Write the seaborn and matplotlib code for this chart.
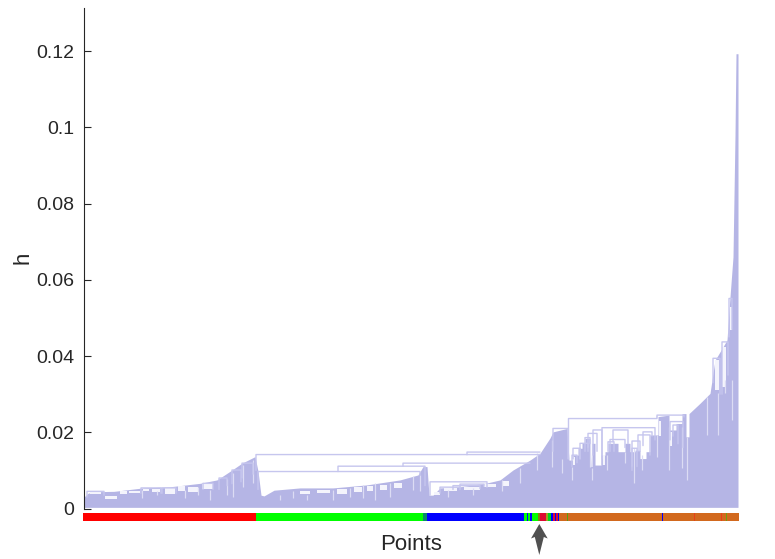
import pandas as pd
import matplotlib.pyplot as plt
import seaborn as sns

# outer shape of the dendrogram, point position vs merge height
env_x = [0, 4, 10, 30, 59, 86, 116, 133, 148, 158, 171, 174, 177, 180, 190, 216, 249, 283, 316, 334, 339, 343, 345,
         349, 356, 376, 403, 416, 429, 446, 456, 466, 469, 483, 485, 489, 489, 494, 494, 498, 498, 501, 501, 506, 507,
         508, 508, 511, 511, 517, 517, 521, 521, 524, 524, 534, 534, 541, 541, 546, 546, 551, 551, 556, 556, 562, 562,
         566, 566, 574, 574, 585, 585, 592, 592, 598, 598, 602, 602, 605, 605, 616, 626, 631, 636, 643, 646,
         649, 651, 652, 654]
env_h = [0.0030, 0.0040, 0.0044, 0.0045, 0.0054, 0.0057, 0.0066, 0.0075, 0.0101, 0.0119, 0.0136, 0.0098, 0.0035, 0.0033,
         0.0048, 0.0054, 0.0054, 0.0062, 0.0075, 0.0088, 0.0110, 0.0110, 0.0035,
         0.0035, 0.0054, 0.0057, 0.0067, 0.0075, 0.0101, 0.0127, 0.0145, 0.0185, 0.0201, 0.0210, 0.0127, 0.0127, 0.0140,
         0.0140, 0.0158, 0.0158, 0.0171, 0.0171, 0.0184, 0.0184, 0.0110,
         0.0110, 0.0171, 0.0171, 0.0114, 0.0114, 0.0140, 0.0140, 0.0149, 0.0149, 0.0171, 0.0171, 0.0149, 0.0149, 0.0171,
         0.0171, 0.0149, 0.0149, 0.0153, 0.0153, 0.0131, 0.0131, 0.0149,
         0.0149, 0.0193, 0.0193, 0.0241, 0.0245, 0.0206, 0.0206, 0.0223, 0.0223, 0.0249, 0.0249, 0.0188, 0.0188, 0.0249,
         0.0276, 0.0302, 0.0389, 0.0411, 0.0442, 0.0555,
         0.0660, 0.0979, 0.1193, 0.1193]

# merges: left, right, height, left child height, right child height
link_l = [172, 174, 254, 319, 346, 383, 356, 369, 376, 57, 78, 119, 135, 148, 158, 3,
          484.5, 469, 518, 509, 504, 501, 496, 489, 488, 529, 526, 524, 548, 548, 554, 559, 573, 586, 589, 629, 638, 645]
link_r = [456, 336, 341, 446, 403, 456, 376, 396, 400, 77, 92, 129, 143, 157, 169, 20,
          573, 484, 571, 518, 513, 506, 504, 496, 493, 544, 541, 530, 556, 553, 566, 568, 600, 599, 594, 636, 644, 648]
link_h = [0.01415, 0.0097, 0.0111, 0.0119, 0.0070, 0.0148, 0.0056, 0.0060, 0.0064, 0.0054, 0.0054, 0.0066, 0.0080, 0.0101, 0.0119, 0.0045,
          0.0236, 0.0210, 0.0212, 0.0206, 0.0197, 0.0186, 0.0171, 0.0158, 0.0140, 0.0206, 0.0181, 0.0175, 0.0177, 0.0158, 0.0193, 0.0201, 0.0245, 0.0228, 0.0219, 0.0394, 0.0437, 0.0551]
link_a = [0.0100, 0.0050, 0.0097, 0.0111, 0.0035, 0.0141, 0.0040, 0.0050, 0.0055, 0.0040, 0.0040, 0.0050, 0.0050, 0.0065, 0.0080, 0.0030,
          0.0130, 0.0150, 0.0115, 0.0140, 0.0160, 0.0150, 0.0130, 0.0130, 0.0110, 0.0175, 0.0150, 0.0150, 0.0110, 0.0100, 0.0150, 0.0165, 0.0240, 0.0180, 0.0190, 0.0330, 0.0300, 0.0450]
link_b = [0.0142, 0.0088, 0.0060, 0.0119, 0.0055, 0.0148, 0.0050, 0.0052, 0.0058, 0.0040, 0.0040, 0.0050, 0.0060, 0.0070, 0.0090, 0.0035,
          0.0240, 0.0130, 0.0180, 0.0130, 0.0150, 0.0170, 0.0150, 0.0130, 0.0120, 0.0170, 0.0160, 0.0150, 0.0150, 0.0110, 0.0140, 0.0190, 0.0240, 0.0160, 0.0170, 0.0300, 0.0350, 0.0470]

# thin pale gaps between the subtrees
slit_x = [468, 478, 488, 508, 550, 585, 598, 603, 623, 634, 648, 641, 506, 523, 541, 573, 558,
          126, 149, 159, 169, 143, 73, 58, 101, 114, 196, 209, 223, 249, 266, 279, 291, 306, 329, 336, 364, 389, 418, 436, 453]
slit_t = [0.0180, 0.0131, 0.0110, 0.0105, 0.0158, 0.0214, 0.0214, 0.0188, 0.0293, 0.0302, 0.0337, 0.0337, 0.0180, 0.0141, 0.0149, 0.0193, 0.0140,
          0.0049, 0.0092, 0.0114, 0.0127, 0.0077, 0.0047, 0.0049, 0.0049, 0.0057, 0.0036, 0.0045, 0.0036, 0.0049, 0.0053, 0.0062, 0.0066, 0.0068, 0.0084, 0.0088, 0.0049, 0.0053, 0.0075, 0.0105, 0.0145]
slit_b = [0.0110, 0.0092, 0.0075, 0.0075, 0.0066, 0.0101, 0.0105, 0.0075, 0.0193, 0.0193, 0.0232, 0.0302, 0.0110, 0.0101, 0.0120, 0.0136, 0.0100,
          0.0022, 0.0031, 0.0057, 0.0066, 0.0036, 0.0036, 0.0027, 0.0027, 0.0036, 0.0023, 0.0027, 0.0023, 0.0022, 0.0031, 0.0027, 0.0022, 0.0031, 0.0049, 0.0045, 0.0031, 0.0036, 0.0045, 0.0066, 0.0101]

# white pockets under the merges
hole_l = [6, 21, 36, 45, 59, 68, 81, 94, 104, 118, 216, 233, 253, 270, 283, 296, 310, 350, 360, 380, 400, 418,
          631, 638, 646, 489, 519, 575, 586]
hole_r = [17, 33, 43, 56, 65, 76, 91, 101, 114, 129, 226, 246, 263, 278, 289, 303, 318, 356, 373, 396, 412, 425,
          635, 642, 648, 491, 521, 577, 588]
hole_t = [0.0042, 0.0034, 0.0046, 0.0047, 0.0052, 0.0050, 0.0053, 0.0058, 0.0057, 0.0064, 0.0046, 0.0049, 0.0052, 0.0056, 0.0060, 0.0062, 0.0068,
          0.0042, 0.0053, 0.0057, 0.0064, 0.0072, 0.0389, 0.0424, 0.0529, 0.0135, 0.0140, 0.0230, 0.0200]
hole_b = [0.0037, 0.0026, 0.0039, 0.0040, 0.0045, 0.0043, 0.0038, 0.0045, 0.0042, 0.0050, 0.0038, 0.0041, 0.0038, 0.0042, 0.0046, 0.0049, 0.0053,
          0.0035, 0.0046, 0.0048, 0.0056, 0.0060, 0.0311, 0.0320, 0.0468, 0.0115, 0.0115, 0.0190, 0.0165]

# class colour of every stretch of points along the bottom
strip_start = [-1.5, 172, 339, 343, 440, 442.5, 444, 446, 447.5, 453.5, 455.5, 461.5, 464, 466.5, 469, 470.5, 472, 473.5, 475,
               483, 484, 578, 579, 610, 611, 637, 638, 642, 643]
strip_end = [172, 339, 343, 440, 442.5, 444, 446, 447.5, 453.5, 455.5, 461.5, 464, 466.5, 469, 470.5, 472, 473.5, 475, 483,
             484, 578, 579, 610, 611, 637, 638, 642, 643, 655]
strip_col = ['#ff0000', '#00ff00', '#0a8a6a', '#0000ff', '#00ff00', '#0000ff', '#00ff00', '#0000ff', '#00ff00', '#8a7a10', '#dc0a32',
             '#a0a020', '#00d020', '#0000ff', '#e01030', '#0000ff', '#e01030', '#0000ff', '#d2691e',
             '#5aa010', '#d2691e', '#0000ff', '#d2691e', '#e8401a', '#d2691e', '#e8401a', '#d2691e', '#70a010', '#d2691e']

yticks = [0, 0.02, 0.04, 0.06, 0.08, 0.1, 0.12]
ytick_labels = ['0', '0.02', '0.04', '0.06', '0.08', '0.1', '0.12']

sns.set_style('ticks')
plt.rcParams['font.family'] = ['Liberation Sans', 'DejaVu Sans']

W, H = 775, 559
fig = plt.figure(figsize=(W / 100, H / 100), dpi=100)
ax = fig.add_axes([84 / W, 1 - 508.5 / H, 655 / W, 500.5 / H])

fill_col = '#b5b5e5'
link_col = '#c6c6ee'

ax.fill_between(env_x, 0.0003, env_h, color=fill_col, lw=0)
ax.bar(hole_l, [t - b for t, b in zip(hole_t, hole_b)], bottom=hole_b,
       width=[r - l for l, r in zip(hole_l, hole_r)], align='edge', color='#f4f4fc', lw=0)
ax.vlines(slit_x, slit_b, slit_t, color='#dcdcf4', lw=0.9)

rows = []
for i in range(len(link_l)):
    rows.append((i, link_l[i], link_a[i]))
    rows.append((i, link_l[i], link_h[i]))
    rows.append((i, link_r[i], link_h[i]))
    rows.append((i, link_r[i], link_b[i]))
links = pd.DataFrame(rows, columns=['link', 'point', 'h'])
sns.lineplot(data=links, x='point', y='h', units='link', estimator=None, sort=False,
             color=link_col, lw=1, ax=ax, legend=False)
for line in ax.lines:
    line.set_snap(False)

ax.barh(-0.00216, [e - s for s, e in zip(strip_start, strip_end)], left=strip_start, height=0.0021,
        color=strip_col, lw=0, clip_on=False)

ax.set_xlim(0, 655)
ax.set_ylim(0, 500.5 / 3812)
ax.set_xticks([])
ax.set_yticks(yticks)
ax.set_yticklabels(ytick_labels)
ax.tick_params(axis='y', direction='in', length=5, width=0.8, color='#262626', labelcolor='#262626', labelsize=14, pad=7)
sns.despine(ax=ax, bottom=True)
ax.spines['left'].set_color('#262626')
ax.spines['left'].set_linewidth(0.8)
ax.set_xlabel('Points', fontsize=16, color='#262626', labelpad=18)
ax.set_ylabel('h', fontsize=16, color='#262626', labelpad=2)

# arrow under the strip
arrow = [(539.3, 524), (531, 538.5), (534.8, 537), (539.3, 555), (543.8, 537), (547.7, 538.5)]
fig.add_artist(plt.Polygon([(x / W, 1 - y / H) for x, y in arrow], closed=True, color='#505050', lw=0,
                           transform=fig.transFigure))

plt.savefig('out.png', dpi=100)
